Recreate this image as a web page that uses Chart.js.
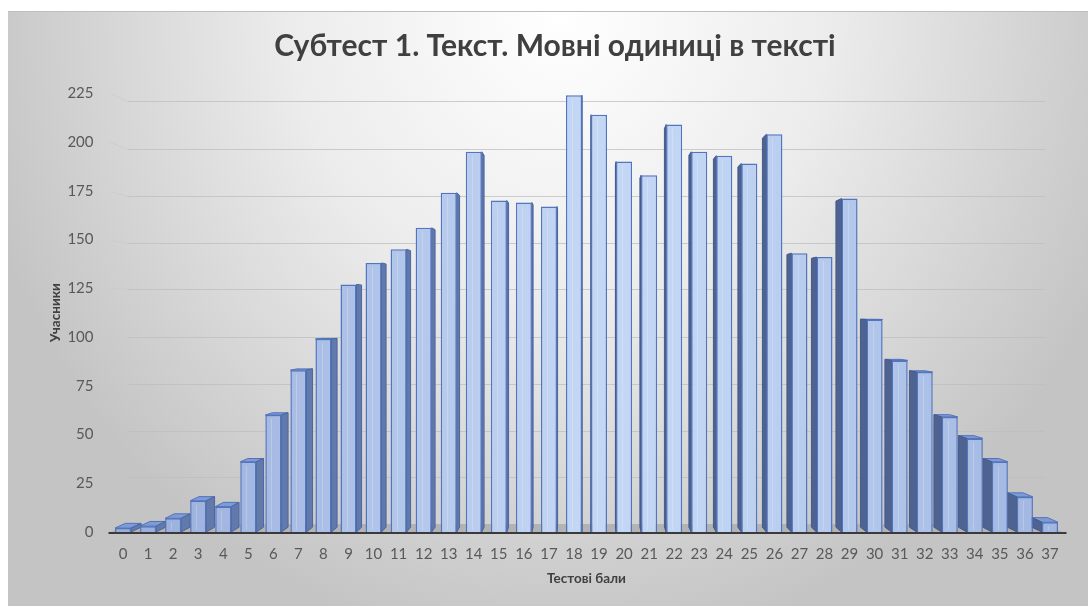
<!DOCTYPE html>
<html><head><meta charset="utf-8">
<script src="https://cdn.jsdelivr.net/npm/chart.js@4.4.1/dist/chart.umd.min.js"></script>
<style>
html,body{margin:0;padding:0;background:#fff;width:1088px;height:606px;overflow:hidden;}
#line{position:absolute;left:8px;top:11px;width:1080px;height:1px;background:#bdbdbd;}
#wrap{position:absolute;left:8px;top:12px;width:1080px;height:594px;
background:radial-gradient(600px 640px at 552px 0px,#ffffff 0%,#ececec 45%,#c4c4c4 100%);}
</style></head><body>
<div id="line"></div>
<div id="wrap"><canvas id="c"></canvas></div>
<script>
const categories = ['0','1','2','3','4','5','6','7','8','9','10','11','12','13','14','15','16','17','18','19','20','21','22','23','24','25','26','27','28','29','30','31','32','33','34','35','36','37'];
const participants = [2,3,7,16,13,36,60,83,99,127,138,145,156,174,195,170,169,167,224,214,190,183,209,195,193,189,204,143,141,171,109,88,82,59,48,36,18,5];
const yTicks = [0,25,50,75,100,125,150,175,200,225];
const chartTitle = 'Субтест 1. Текст. Мовні одиниці в тексті';
const xTitle = 'Тестові бали';
const yTitle = 'Учасники';

const FONT = 'Lato, "Open Sans", sans-serif';
const VP_Y = 300;
const WALL_K = 0.9636;
const BAR_K = 0.978;

function poly(ctx, pts, fill, stroke) {
  ctx.beginPath();
  ctx.moveTo(pts[0][0], pts[0][1]);
  for (let i = 1; i < pts.length; i++) ctx.lineTo(pts[i][0], pts[i][1]);
  ctx.closePath();
  if (fill) { ctx.fillStyle = fill; ctx.fill(); }
  if (stroke) { ctx.strokeStyle = stroke; ctx.lineWidth = 1; ctx.stroke(); }
}

const depthPlugin = {
  id: 'depth3d',
  beforeDatasetsDraw(chart) {
    const {ctx, chartArea: ca, scales: {y}} = chart;
    const vpX = (ca.left + ca.right) / 2;
    const bx = v => vpX + (v - vpX) * WALL_K;
    const by = v => VP_Y + (v - VP_Y) * WALL_K;
    ctx.save();
    ctx.lineWidth = 1;
    y.ticks.forEach(t => {
      if (t.value === 0) return;
      const yf = Math.round(y.getPixelForValue(t.value)) + 0.5;
      const yb = Math.round(by(yf)) + 0.5;
      ctx.strokeStyle = 'rgba(200,200,200,0.5)';
      ctx.beginPath(); ctx.moveTo(ca.left, yf); ctx.lineTo(bx(ca.left), yb); ctx.stroke();
      ctx.strokeStyle = 'rgba(190,190,190,0.75)';
      ctx.beginPath(); ctx.moveTo(bx(ca.left), yb); ctx.lineTo(bx(ca.right), yb); ctx.stroke();
    });
    const y0 = y.getPixelForValue(0);
    poly(ctx, [[ca.left, y0], [ca.right, y0], [bx(ca.right), by(y0)], [bx(ca.left), by(y0)]], '#b3b3b3');
    const X = v => vpX + (v - vpX) * BAR_K;
    const Y = v => VP_Y + (v - VP_Y) * BAR_K;
    chart.getDatasetMeta(0).data.forEach(bar => {
      const p = bar.getProps(['x', 'y', 'base', 'width'], true);
      const xl = p.x - p.width / 2, xr = p.x + p.width / 2, yt = p.y, yb = p.base;
      if (Y(yt) < yt) {
        poly(ctx, [[xl, yt], [xr, yt], [X(xr), Y(yt)], [X(xl), Y(yt)]], '#7f9bd6', '#5072bc');
      }
      if (p.x < vpX) {
        poly(ctx, [[xr, yt], [xr, yb], [X(xr), Y(yb)], [X(xr), Y(yt)]], '#6279ab', '#4a66a0');
      } else {
        poly(ctx, [[xl, yt], [xl, yb], [X(xl), Y(yb)], [X(xl), Y(yt)]], '#4f6391', '#435a8c');
      }
    });
    ctx.restore();
  },
  afterDatasetsDraw(chart) {
    const {ctx, chartArea: ca, scales: {y}} = chart;
    const y0 = y.getPixelForValue(0);
    ctx.save();
    ctx.strokeStyle = 'rgba(255,255,255,0.22)';
    ctx.lineWidth = 1;
    chart.getDatasetMeta(0).data.forEach(bar => {
      const p = bar.getProps(['x', 'y', 'base', 'width'], true);
      if (p.base - p.y < 8) return;
      const sx = Math.round(p.x - p.width * 0.12) + 0.5;
      ctx.beginPath(); ctx.moveTo(sx, p.y + 4); ctx.lineTo(sx, p.base - 2); ctx.stroke();
    });
    ctx.strokeStyle = '#3a3a3a';
    ctx.lineWidth = 2;
    ctx.beginPath(); ctx.moveTo(ca.left - 2, y0 + 1); ctx.lineTo(ca.right + 4, y0 + 1); ctx.stroke();
    ctx.restore();
  }
};

let gradCache = null;
function frontFill(c) {
  const chart = c.chart;
  const ca = chart.chartArea;
  if (!ca) return '#a9bde4';
  if (!gradCache || gradCache.l !== ca.left || gradCache.r !== ca.right) {
    const g = chart.ctx.createLinearGradient(ca.left, 0, ca.right, 0);
    g.addColorStop(0, '#97acda');
    g.addColorStop(0.5, '#c4d7f5');
    g.addColorStop(0.62, '#c1d5f4');
    g.addColorStop(1, '#a0b5e0');
    gradCache = {l: ca.left, r: ca.right, g};
  }
  return gradCache.g;
}

new Chart(document.getElementById('c'), {
  type: 'bar',
  data: {
    labels: categories,
    datasets: [{
      data: participants,
      backgroundColor: frontFill,
      borderColor: '#5275c0',
      borderWidth: 1.5,
      categoryPercentage: 1,
      barPercentage: 0.64
    }]
  },
  plugins: [depthPlugin],
  options: {
    responsive: true,
    maintainAspectRatio: false,
    animation: false,
    layout: {padding: {left: 39.5, right: 25.5, top: 0, bottom: 0}},
    plugins: {
      legend: {display: false},
      tooltip: {enabled: false},
      title: {
        display: true,
        text: chartTitle,
        color: '#404040',
        font: {family: FONT, size: 30, weight: 'bold', lineHeight: 1.2},
        padding: {top: 16, bottom: 29.3}
      }
    },
    scales: {
      x: {
        grid: {display: false, drawTicks: false},
        border: {display: false},
        ticks: {color: '#595959', font: {family: FONT, size: 15}, padding: 13, maxRotation: 0, autoSkip: false},
        title: {display: true, text: xTitle, color: '#404040', font: {family: FONT, size: 13.5, weight: 'bold', lineHeight: 1.2}, padding: {top: 0, bottom: 18.9}},
        afterFit: s => { s.height = 74; }
      },
      y: {
        min: 0, max: 225,
        afterBuildTicks: s => { s.ticks = yTicks.map(v => ({value: v})); },
        grid: {display: false, drawTicks: false},
        border: {display: false},
        ticks: {color: '#595959', font: {family: FONT, size: 15}, padding: 17},
        title: {display: true, text: yTitle, color: '#404040', font: {family: FONT, size: 13.5, weight: 'bold', lineHeight: 1.2}, padding: {top: 0, bottom: 0}},
        afterFit: s => { s.width = 63; }
      }
    }
  }
});
</script>
</body></html>
